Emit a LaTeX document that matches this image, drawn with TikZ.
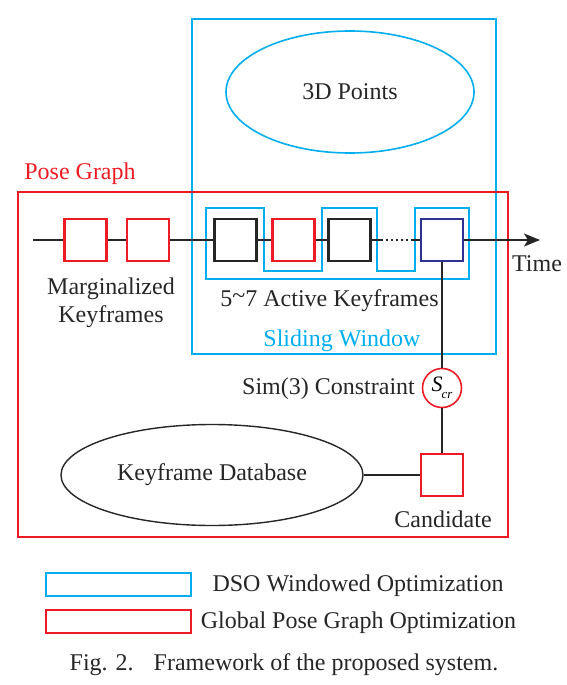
\documentclass[tikz,border=0pt]{standalone}
\usepackage{fontspec}
\setmainfont{Liberation Serif}
\usetikzlibrary{arrows.meta,shapes.geometric}
\definecolor{dsoblue}{RGB}{0,174,239}
\definecolor{pgred}{RGB}{237,28,36}
\definecolor{navy}{RGB}{46,49,146}
\tikzset{
  kf/.style={draw, line width=2.2pt, minimum width=42pt, minimum height=42pt, inner sep=0pt, fill=white},
  blackkf/.style={kf, draw=black!85},
  redkf/.style={kf, draw=pgred},
  navykf/.style={kf, draw=navy},
  tline/.style={line width=2pt, black!85},
  lbl/.style={font=\fontsize{24}{28}\selectfont, text=black!85, inner sep=0pt},
}
\begin{document}
\begin{tikzpicture}[x=1pt,y=-1pt]
\useasboundingbox (0,0) rectangle (567,685);
% frames
\draw[dsoblue, line width=2pt] (192,19) rectangle (496,354);
\draw[pgred, line width=2pt] (18,192) rectangle (508,537);
\node[draw=dsoblue, line width=1.6pt, ellipse, minimum width=248pt, minimum height=122pt, lbl] (pts) at (350,92) {3D Points};
% sliding window outline
\draw[dsoblue, line width=2pt] (206,208) -- (264,208) -- (264,271) -- (322,271) -- (322,208) -- (377,208) -- (377,271) -- (415,271) -- (415,208) -- (469,208) -- (469,279) -- (206,279) -- cycle;
% timeline
\coordinate (tstart) at (33,240);
\coordinate (tend) at (540,240);
\node[redkf] (m1) at (85.5,240) {};
\node[redkf] (m2) at (148,240) {};
\node[blackkf] (k1) at (235.5,240) {};
\node[redkf] (k2) at (293.5,240) {};
\node[blackkf] (k3) at (349.5,240) {};
\node[navykf] (k4) at (442,240) {};
\draw[tline] (tstart) -- (m1);
\draw[tline] (m1) -- (m2);
\draw[tline] (m2) -- (k1);
\draw[tline] (k1) -- (k2);
\draw[tline] (k2) -- (k3);
\draw[tline] (k3.east) -- ++(9,0) coordinate (d1);
\coordinate (d2) at (413,240);
\draw[line width=1.6pt, black!85, dash pattern=on 2pt off 3pt] (d1) -- (d2);
\draw[tline] (d2) -- (k4);
\draw[tline, -{Stealth[length=16pt,width=13pt,inset=4pt]}] (k4) -- (tend);
% labels
\node[lbl] (time) at (537,264) {Time};
\node[lbl, text=pgred] (pg) at (80,174) {Pose Graph};
\node[lbl, align=center] (marg) at (111,303) {Marginalized\\[-0.5pt]Keyframes};
\node[lbl] (active) at (329.5,301) {5\raisebox{3pt}{\textasciitilde}7 Active Keyframes};
\node[lbl, text=dsoblue] (sw) at (342,341) {Sliding Window};
% sim3 constraint
\node[circle, draw=pgred, line width=1.6pt, minimum size=39pt, inner sep=0pt, fill=white] (scr) at (442,388) {\raisebox{2pt}{\fontsize{22}{24}\selectfont\textit{S}}\kern-1pt\raisebox{-5pt}{\fontsize{13}{14}\selectfont\textit{cr}}};
\node[lbl] (simlbl) at (328.5,389) {Sim(3) Constraint};
\node[redkf] (cand) at (442,475) {};
\node[lbl] (candlbl) at (443,519) {Candidate};
\node[draw=black!85, line width=1.4pt, ellipse, minimum width=302pt, minimum height=101pt, lbl] (db) at (212,475) {Keyframe Database};
\draw[tline] (k4) -- (scr);
\draw[tline] (scr) -- (cand);
\draw[tline] (db.east) -- (cand.west);
% legend
\node[draw=dsoblue, line width=2pt, minimum width=145pt, minimum height=23pt, inner sep=0pt] (legb) at (118.5,584.5) {};
\node[draw=pgred, line width=2pt, minimum width=145pt, minimum height=23pt, inner sep=0pt] (legr) at (118.5,621.5) {};
\node[lbl] (legbt) at (358,586) {DSO Windowed Optimization};
\node[lbl] (legrt) at (358.5,623) {Global Pose Graph Optimization};
\node[lbl] (cap) at (284,665) {Fig. 2.\hspace{20pt}Framework of the proposed system.};
\end{tikzpicture}
\end{document}
